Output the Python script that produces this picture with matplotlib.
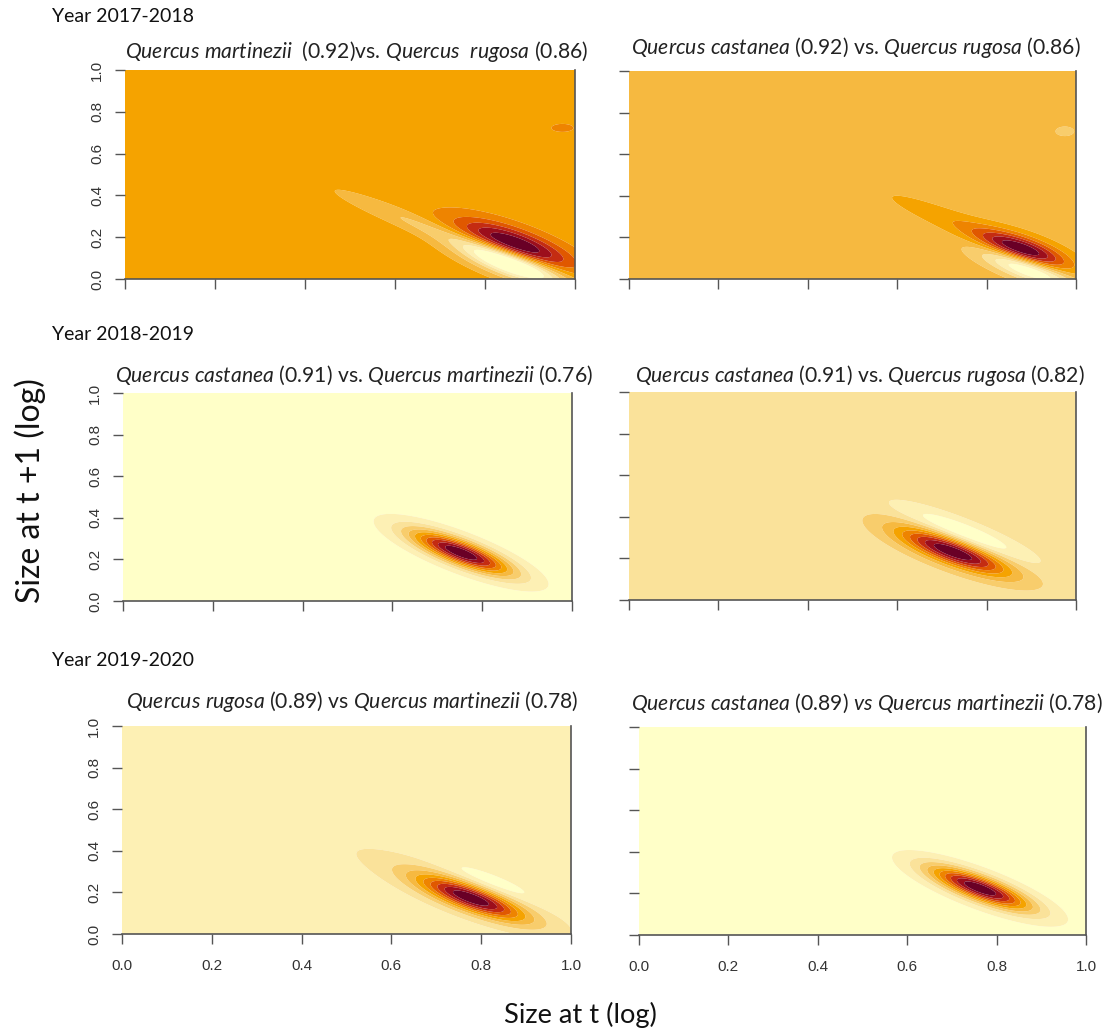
import numpy as np
import matplotlib
matplotlib.use("Agg")
import matplotlib.pyplot as plt

plt.rcParams['font.family'] = ['Lato', 'DejaVu Sans']
plt.rcParams['mathtext.fontset'] = 'custom'
plt.rcParams['mathtext.rm'] = 'Lato'
plt.rcParams['mathtext.it'] = 'Lato:italic'

W, H = 1107, 1033

year_labels = ['Year 2017-2018', 'Year 2018-2019', 'Year 2019-2020']
panel_titles = [
    r'$\mathit{Quercus\ martinezii}$  (0.92)vs. $\mathit{Quercus\ \ rugosa}$ (0.86)',
    r'$\mathit{Quercus\ castanea}$ (0.92) vs. $\mathit{Quercus\ rugosa}$ (0.86)',
    r'$\mathit{Quercus\ castanea}$ (0.91) vs. $\mathit{Quercus\ martinezii}$ (0.76)',
    r'$\mathit{Quercus\ castanea}$ (0.91) vs. $\mathit{Quercus\ rugosa}$ (0.82)',
    r'$\mathit{Quercus\ rugosa}$ (0.89) vs $\mathit{Quercus\ martinezii}$ (0.78)',
    r'$\mathit{Quercus\ castanea}$ (0.89) $\mathit{vs\ Quercus\ martinezii}$ (0.78)',
]
ticks = [0.0, 0.2, 0.4, 0.6, 0.8, 1.0]
tick_labels = ['0.0', '0.2', '0.4', '0.6', '0.8', '1.0']

# kernel difference surfaces, one row per gaussian component:
# panel, centre x, centre y, sd along main axis, sd across, axis angle (deg), weight
comp_panel = [0, 0, 0, 0, 1, 1, 1, 1, 2, 3, 3, 4, 4, 4, 5]
comp_x = [0.865, 0.86, 0.67, 0.972, 0.88, 0.76, 0.89, 0.975, 0.753, 0.725, 0.752, 0.778, 0.74, 0.82, 0.763]
comp_y = [0.16, 0.075, 0.245, 0.723, 0.14, 0.245, 0.05, 0.71, 0.232, 0.232, 0.32, 0.171, 0.22, 0.247, 0.224]
comp_long = [0.11, 0.105, 0.175, 0.018, 0.085, 0.17, 0.095, 0.02, 0.104, 0.11, 0.125, 0.105, 0.22, 0.1, 0.104]
comp_short = [0.042, 0.036, 0.024, 0.014, 0.036, 0.03, 0.03, 0.022, 0.034, 0.036, 0.03, 0.035, 0.05, 0.025, 0.034]
comp_angle = [-43, -42, -41.6, 0, -42, -42, -42, 0, -43.5, -42, -42.6, -42, -40.6, -42, -42.7]
comp_weight = [1.0, -1.2, -0.26, 0.2, 1.0, 0.2, -0.85, -0.14, 1.0, 1.0, -0.33, 1.0, 0.12, -0.17, 1.0]

# colour bands below the zero band in each panel
bands_below = [5, 4, 0, 2, 1, 0]

band_colors = ['#FFFFC8', '#FDF0B4', '#FAE29A', '#F8CD6C', '#F6B940', '#F5A300',
               '#EE8400', '#E05800', '#C42C12', '#9C0E1C', '#690026']

# panel boxes in pixels: left, top, right, bottom
boxes = [(125, 70, 575, 279), (629, 71, 1076, 279),
         (123, 393, 572, 601), (629, 392, 1076, 600),
         (122, 726, 571, 934), (639, 727, 1086, 935)]
title_pos = [(357, 51), (856, 48), (354, 375), (860, 375), (352, 702), (867, 703)]
year_pos = [(52, 17), (52, 335), (52, 660)]

g = np.linspace(0, 1, 301)
X, Y = np.meshgrid(g, g)


def surface(k):
    z = np.zeros_like(X)
    for i, p in enumerate(comp_panel):
        if p != k:
            continue
        a = np.deg2rad(comp_angle[i])
        dx, dy = X - comp_x[i], Y - comp_y[i]
        u = dx * np.cos(a) + dy * np.sin(a)
        v = -dx * np.sin(a) + dy * np.cos(a)
        z += comp_weight[i] * np.exp(-0.5 * ((u / comp_long[i]) ** 2 + (v / comp_short[i]) ** 2))
    return z


fig = plt.figure(figsize=(W / 100, H / 100), dpi=100)
fig.patch.set_facecolor('white')

n_bands = len(band_colors)
for k, (l, t, r, b) in enumerate(boxes):
    ax = fig.add_axes([l / W, 1 - b / H, (r - l) / W, (b - t) / H])
    z = surface(k)
    nb = bands_below[k]
    step = z.max() / (n_bands - nb - 0.5)
    levels = (np.arange(n_bands + 1) - nb - 0.5) * step
    z = np.clip(z, levels[0] + 1e-9, levels[-1] - 1e-9)
    ax.contourf(X, Y, z, levels=levels, colors=band_colors, antialiased=True)
    ax.set_xlim(0, 1)
    ax.set_ylim(0, 1)
    for side in ['top', 'left']:
        ax.spines[side].set_visible(False)
    for side in ['right', 'bottom']:
        ax.spines[side].set_color('#555555')
        ax.spines[side].set_linewidth(1.2)
    ax.set_xticks(ticks)
    ax.set_yticks(ticks)
    ax.tick_params(direction='out', length=7, width=1, color='#555555',
                   labelsize=11, labelcolor='#333333')
    ax.tick_params(axis='x', pad=11)
    ax.tick_params(axis='y', pad=8)
    if k >= 4:
        ax.set_xticklabels(tick_labels, family='Liberation Sans')
    else:
        ax.set_xticklabels([])
    if k % 2 == 0:
        ax.set_yticklabels(tick_labels, family='Liberation Sans', rotation=90, va='center')
    else:
        ax.set_yticklabels([])

    tx, ty = title_pos[k]
    fig.text(tx / W, 1 - ty / H, panel_titles[k], ha='center', va='center',
             fontsize=15.2, color='#222222')

for lab, (x, y) in zip(year_labels, year_pos):
    fig.text(x / W, 1 - y / H, lab, ha='left', va='center', fontsize=14, color='#111111')

fig.text(30 / W, 1 - 491 / H, 'Size at t +1 (log)', rotation=90, ha='center', va='center',
         fontsize=23, color='#111111')
fig.text(580 / W, 1 - 1015 / H, 'Size at t (log)', ha='center', va='center',
         fontsize=19.6, color='#111111')

fig.savefig('out.png', dpi=100, facecolor='white')
